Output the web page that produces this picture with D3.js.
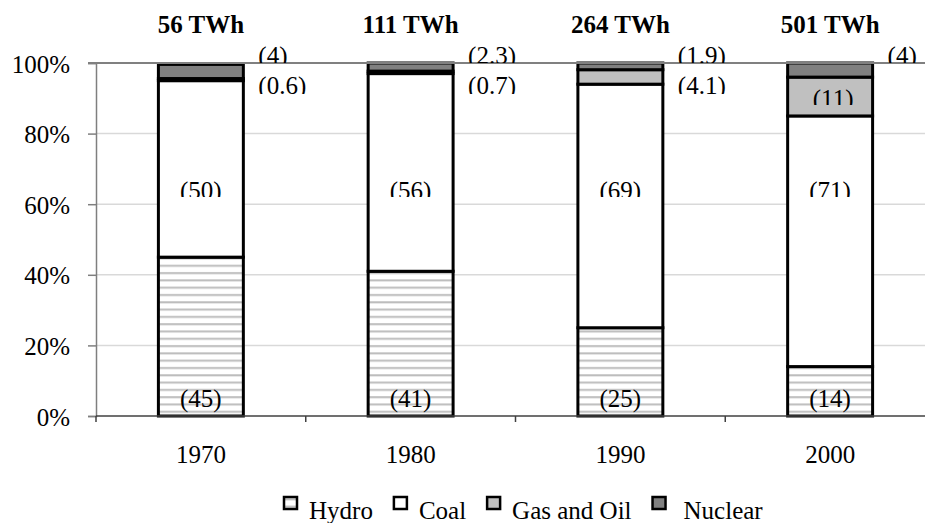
<!DOCTYPE html>
<html>
<head>
<meta charset="utf-8">
<script src="https://cdn.jsdelivr.net/npm/d3@7"></script>
<style>
    body { margin: 0; background: #ffffff; }
    svg { display: block; }
    text { font-family: "Liberation Serif", "Times New Roman", serif; fill: #000; }
</style>
</head>
<body>
<div id="chart"></div>
<script>
//Chart data, shares in percent of total generation
var years = ["1970", "1980", "1990", "2000"];
var totals = ["56 TWh", "111 TWh", "264 TWh", "501 TWh"];
var seriesNames = ["Hydro", "Coal", "Gas and Oil", "Nuclear"];
var hydro = [45, 41, 25, 14];
var coal = [50, 56, 69, 71];
var gasOil = [0.6, 0.7, 4.1, 11];
var nuclear = [4, 2.3, 1.9, 4];
var yTicks = [0, 20, 40, 60, 80, 100];

(function(){

    var width = 925;
    var height = 523;
    var fontSize = 25;

    var svg = d3.select("#chart")
        .append("svg:svg")
        .attr("width", width)
        .attr("height", height);

    var defs = svg.append("defs");

    //horizontal stripes used for hydro
    var pattern = defs.append("pattern")
        .attr("id", "hydro-stripes")
        .attr("patternUnits", "userSpaceOnUse")
        .attr("width", 8)
        .attr("height", 7.3);
    pattern.append("rect")
        .attr("width", 8)
        .attr("height", 7.3)
        .attr("fill", "#ffffff");
    pattern.append("rect")
        .attr("y", 2)
        .attr("width", 8)
        .attr("height", 2)
        .attr("fill", "#bdbdbd");

    var fills = ["url(#hydro-stripes)", "#ffffff", "#c0c0c0", "#808080"];
    var seriesValues = [hydro, coal, gasOil, nuclear];

    var x = d3.scaleBand()
        .domain(years)
        .range([96, 935])
        .paddingInner(0.595)
        .paddingOuter(0.2975);

    var y = d3.scaleLinear()
        .domain([0, 100])
        .range([416, 63]);

    //build stacked rows
    var rows = years.map(function(yr, i) {
        var row = { year: yr };
        seriesNames.forEach(function(name, s) {
            row[name] = seriesValues[s][i];
        });
        return row;
    });
    var stacked = d3.stack().keys(seriesNames)(rows);

    //gridlines
    svg.append("g")
        .attr("class", "grid")
        .selectAll("line")
        .data(yTicks.filter(function(t) { return t > 0 && t < 100; }))
        .enter()
        .append("line")
        .attr("x1", 96)
        .attr("x2", width)
        .attr("y1", function(d) { return y(d); })
        .attr("y2", function(d) { return y(d); })
        .attr("stroke", "#d9d9d9")
        .attr("stroke-width", 1.5);

    //bars
    var seriesG = svg.append("g")
        .attr("class", "vis-series")
        .selectAll("g")
        .data(stacked)
        .enter()
        .append("g")
        .attr("fill", function(d, i) { return fills[i]; });

    seriesG.selectAll("rect")
        .data(function(d) { return d; })
        .enter()
        .append("rect")
        .attr("x", function(d) { return x(d.data.year); })
        .attr("width", x.bandwidth())
        .attr("y", function(d) { return y(d[1]); })
        .attr("height", function(d) { return y(d[0]) - y(d[1]); })
        .attr("stroke", "#000")
        .attr("stroke-width", 3);

    //y axis
    var yAxis = svg.append("g")
        .attr("transform", "translate(96,0)")
        .call(d3.axisLeft(y).tickValues(yTicks).tickSize(8).tickPadding(0).tickFormat(function(d) { return d + "%"; }));
    yAxis.select(".domain").attr("stroke", "#7f7f7f").attr("stroke-width", 1.5);
    yAxis.selectAll(".tick line").attr("stroke", "#7f7f7f").attr("stroke-width", 1.5);
    yAxis.selectAll(".tick text")
        .attr("x", -26)
        .attr("dy", "0.36em")
        .style("font-size", fontSize + "px")
        .style("font-family", "Liberation Serif");

    //top 100% line runs across the whole chart
    svg.append("line")
        .attr("x1", 88)
        .attr("x2", width)
        .attr("y1", y(100))
        .attr("y2", y(100))
        .attr("stroke", "#808080")
        .attr("stroke-width", 2);

    //x axis, ticks sit between the categories
    var xAxisG = svg.append("g").attr("class", "x-axis");
    xAxisG.append("line")
        .attr("x1", 96)
        .attr("x2", width)
        .attr("y1", y(0))
        .attr("y2", y(0))
        .attr("stroke", "#404040")
        .attr("stroke-width", 1.5);
    var step = x.step();
    xAxisG.selectAll(".xtick")
        .data(years)
        .enter()
        .append("line")
        .attr("x1", function(d) { return x(d) + x.bandwidth() / 2 - step / 2; })
        .attr("x2", function(d) { return x(d) + x.bandwidth() / 2 - step / 2; })
        .attr("y1", y(0))
        .attr("y2", y(0) + 6)
        .attr("stroke", "#404040")
        .attr("stroke-width", 1.5);
    xAxisG.selectAll(".xlabel")
        .data(years)
        .enter()
        .append("text")
        .attr("x", function(d) { return x(d) + x.bandwidth() / 2; })
        .attr("y", 463)
        .attr("text-anchor", "middle")
        .style("font-size", fontSize + "px")
        .text(function(d) { return d; });

    //totals above each bar
    svg.selectAll(".total")
        .data(years)
        .enter()
        .append("text")
        .attr("x", function(d) { return x(d) + x.bandwidth() / 2; })
        .attr("y", 33)
        .attr("text-anchor", "middle")
        .style("font-size", fontSize + "px")
        .style("font-weight", "bold")
        .text(function(d, i) { return totals[i]; });

    //value labels; some are cut at the bottom like in the original
    var addClip = function(id, bottom) {
        defs.append("clipPath")
            .attr("id", id)
            .append("rect")
            .attr("x", 0)
            .attr("y", 0)
            .attr("width", width)
            .attr("height", bottom);
        return "url(#" + id + ")";
    };

    var fmt = function(v) { return "(" + v + ")"; };
    var center = function(i) { return x(years[i]) + x.bandwidth() / 2; };
    var rightOf = function(i) { return x(years[i]) + x.bandwidth() + 15; };

    var labels = [];
    years.forEach(function(yr, i) {
        labels.push({ text: fmt(hydro[i]), x: center(i), y: y(2.5), anchor: "middle", clip: null });
        labels.push({ text: fmt(coal[i]), x: center(i), y: y(61.5), anchor: "middle", clip: "coal" });
        if (gasOil[i] < 10) {
            labels.push({ text: fmt(gasOil[i]), x: rightOf(i), y: y(91.3), anchor: "start", clip: "gasright" });
        } else {
            labels.push({ text: fmt(gasOil[i]), x: center(i) + 3, y: y(87.4), anchor: "middle", clip: "gasin" });
        }
        labels.push({ text: fmt(nuclear[i]), x: rightOf(i), y: y(99.7), anchor: "start", clip: "nuc" });
    });

    var clips = {
        coal: addClip("clip-coal", 197),
        gasright: addClip("clip-gasright", 94),
        gasin: addClip("clip-gasin", 105),
        nuc: addClip("clip-nuc", 63)
    };

    var labelG = svg.append("g").attr("class", "labels");
    labels.forEach(function(l) {
        var t = labelG.append("text")
            .attr("x", l.x)
            .attr("y", l.y)
            .attr("text-anchor", l.anchor)
            .style("font-size", fontSize + "px")
            .text(l.text);
        if (l.clip) {
            t.attr("clip-path", clips[l.clip]);
        }
    });

    //legend
    var legend = svg.append("g").attr("class", "legend");
    var lx = 284;
    seriesNames.forEach(function(name, i) {
        legend.append("rect")
            .attr("x", lx)
            .attr("y", 497)
            .attr("width", 13)
            .attr("height", 12)
            .attr("fill", fills[i])
            .attr("stroke", "#000")
            .attr("stroke-width", 2.5);
        var t = legend.append("text")
            .attr("x", lx + (i === 3 ? 31 : 25))
            .attr("y", 519)
            .style("font-size", fontSize + "px")
            .text(name);
        lx = lx + (i === 3 ? 31 : 25) + t.node().getComputedTextLength() + 21;
    });

}());
</script>
</body>
</html>
